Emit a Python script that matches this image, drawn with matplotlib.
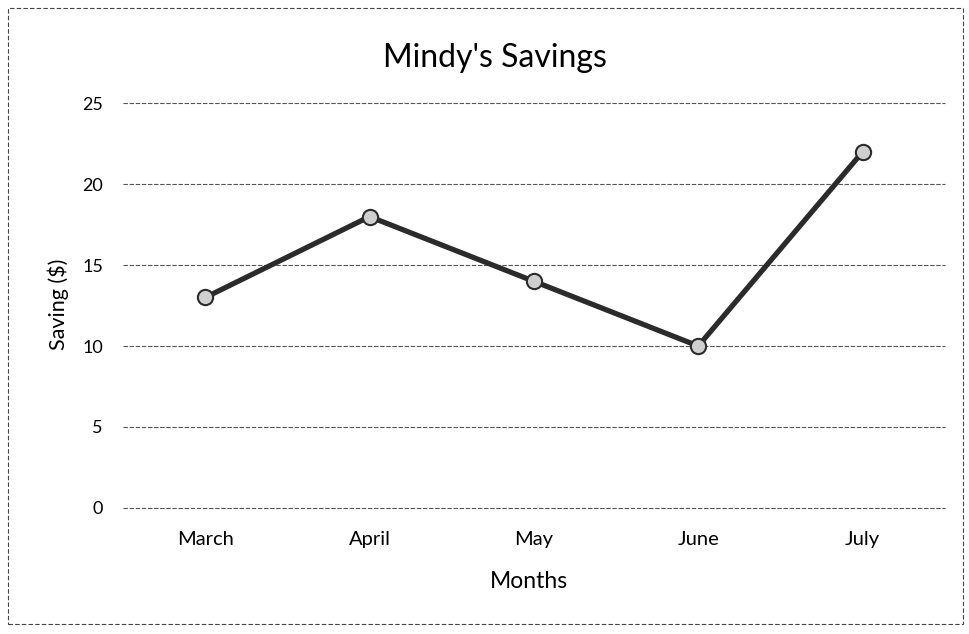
import matplotlib
matplotlib.use('Agg')
import matplotlib.pyplot as plt
from matplotlib.patches import Rectangle

# data
months = ['March', 'April', 'May', 'June', 'July']
savings = [13, 18, 14, 10, 22]
y_ticks = [0, 5, 10, 15, 20, 25]

plt.rcParams['font.family'] = ['Lato', 'DejaVu Sans']

fig = plt.figure(figsize=(9.69, 6.34), dpi=100)
ax = fig.add_axes([0.127, 0.199, 0.848, 0.638])

x = range(len(months))
ax.plot(x, savings, color='#2b2b2b', linewidth=3.8, marker='o', markersize=11,
        markerfacecolor='#cfcfcf', markeredgecolor='#2b2b2b', markeredgewidth=1.5,
        zorder=3)

ax.set_xlim(-0.5, len(months) - 0.5)
ax.set_ylim(0, 25)
ax.set_xticks(list(x))
ax.set_xticklabels(months, fontsize=14.5)
ax.set_yticks(y_ticks)
ax.set_yticklabels([str(t) for t in y_ticks], fontsize=13)
ax.tick_params(axis='x', length=0, pad=17)
ax.tick_params(axis='y', length=0, pad=14.5)

# dashed gridlines like the scanned print
ax.yaxis.grid(True, color='#555555', linestyle=(0, (4, 1.5)), linewidth=0.8)
for gl in ax.get_ygridlines():
    gl.set_clip_on(False)
ax.set_axisbelow(True)
for s in ax.spines.values():
    s.set_visible(False)

fig.text(0.511, 0.9085, "Mindy's Savings", fontsize=23, ha='center', va='center')

ax.set_xlabel('Months', fontsize=16.5)
ax.xaxis.set_label_coords(0.494, -0.183)
ax.xaxis.label.set_va('center')
ax.set_ylabel('Saving ($)', fontsize=15.5)
ax.yaxis.set_label_coords(-0.079, 0.504)
ax.yaxis.label.set_va('center')

# outer chart border
fig.patches.append(Rectangle((0.008, 0.015), 0.986, 0.972, transform=fig.transFigure,
                             fill=False, edgecolor='#444444', linewidth=0.8,
                             linestyle=(0, (4, 2))))

fig.savefig('out.png', dpi=100, facecolor='white')
plt.close(fig)
